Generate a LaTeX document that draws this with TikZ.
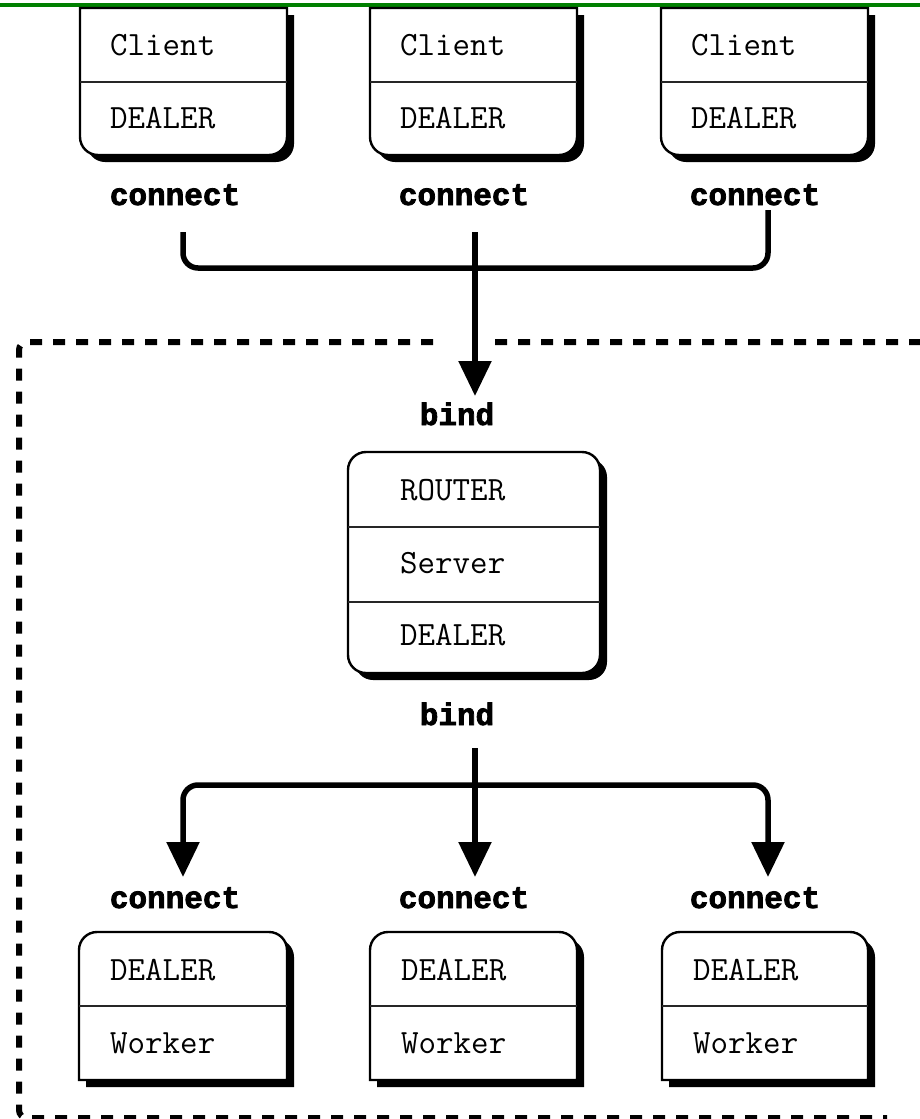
\documentclass[tikz,border=0pt]{standalone}
\usepackage{fontspec}
\newfontfamily\fieldfamily{Latin Modern Mono}
\newfontfamily\tagfamily{Liberation Mono}[BoldFeatures={FakeBold=2.5}]
\usetikzlibrary{arrows.meta}
\definecolor{topGreen}{RGB}{0,128,0}

\newcommand\fieldfont{\fieldfamily\fontsize{34}{40}\selectfont}
\newcommand\tagfont{\tagfamily\bfseries\fontsize{31}{36}\selectfont}

\tikzset{
  boxface/.style={fill=white, draw=black, line width=2.4pt},
  boxshadow/.style={fill=black},
  divider/.style={draw=black!85, line width=2pt},
  field/.style={anchor=base west, inner sep=0pt, font=\fieldfont},
  sockettag/.style={anchor=base, inner sep=0pt, font=\tagfont},
  wire/.style={line width=5.5pt, line join=round},
  tip/.style={-{Triangle[width=32pt,length=35pt]}},
  twotips/.style={{Triangle[width=32pt,length=35pt]}-{Triangle[width=32pt,length=35pt]}},
  border/.style={line width=6pt, dash pattern=on 12pt off 11pt, rounded corners=8pt}
}

% box with square top and rounded bottom: left, top, width, height
\newcommand\bottomroundbox[4]{%
  \fill[boxshadow] (#1+7,#2+7) -- (#1+7,#2+#4/2+7) [rounded corners=18pt] -- (#1+7,#2+#4+7) -- (#1+#3+7,#2+#4+7) -- (#1+#3+7,#2+#4/2+7) [sharp corners] -- (#1+#3+7,#2+7) -- cycle;
  \draw[boxface] (#1,#2) -- (#1,#2+#4/2) [rounded corners=18pt] -- (#1,#2+#4) -- (#1+#3,#2+#4) -- (#1+#3,#2+#4/2) [sharp corners] -- (#1+#3,#2) -- cycle;}

% box with rounded top and square bottom
\newcommand\toproundbox[4]{%
  \fill[boxshadow] (#1+7,#2+#4+7) -- (#1+7,#2+#4/2+7) [rounded corners=18pt] -- (#1+7,#2+7) -- (#1+#3+7,#2+7) -- (#1+#3+7,#2+#4/2+7) [sharp corners] -- (#1+#3+7,#2+#4+7) -- cycle;
  \draw[boxface] (#1,#2+#4) -- (#1,#2+#4/2) [rounded corners=18pt] -- (#1,#2) -- (#1+#3,#2) -- (#1+#3,#2+#4/2) [sharp corners] -- (#1+#3,#2+#4) -- cycle;}

% box with all corners rounded
\newcommand\allroundbox[4]{%
  \fill[boxshadow, rounded corners=18pt] (#1+7,#2+7) rectangle (#1+#3+7,#2+#4+7);
  \draw[boxface, rounded corners=18pt] (#1,#2) rectangle (#1+#3,#2+#4);}

\begin{document}
\begin{tikzpicture}[x=1pt,y=-1pt]
\useasboundingbox (0,0) rectangle (920,1119);
\fill[white] (0,0) rectangle (920,1119);

% rule along the top edge
\draw[topGreen, line width=4.5pt] (0,5) -- (920,5);

% dashed frame around the server side
\draw[border] (433,342) -- (19,342) -- (19,1118) -- (887,1118);
\draw[border] (495,342) -- (945,342) -- (945,1118);

% clients
\bottomroundbox{80}{8}{207}{147}
\bottomroundbox{370}{8}{207}{147}
\bottomroundbox{661}{8}{207}{147}
\draw[divider] (80,82) -- (287,82);
\draw[divider] (370,82) -- (577,82);
\draw[divider] (661,82) -- (868,82);
\node[field] (cl1name) at (110,55) {Client};
\node[field] (cl1sock) at (110,128) {DEALER};
\node[field] (cl2name) at (400,55) {Client};
\node[field] (cl2sock) at (400,128) {DEALER};
\node[field] (cl3name) at (691,55) {Client};
\node[field] (cl3sock) at (691,128) {DEALER};
\node[sockettag] (cl1tag) at (175,205) {connect};
\node[sockettag] (cl2tag) at (464,205) {connect};
\node[sockettag] (cl3tag) at (755,205) {connect};

% broker
\allroundbox{348}{452}{252}{221}
\draw[divider] (348,527) -- (600,527);
\draw[divider] (348,602) -- (600,602);
\node[field] (brfront) at (400,500) {ROUTER};
\node[field] (brname) at (400,573) {Server};
\node[field] (brback) at (400,645) {DEALER};
\node[sockettag] (brfronttag) at (457,425) {bind};
\node[sockettag] (brbacktag) at (457,725) {bind};

% workers
\toproundbox{79}{932}{208}{148}
\toproundbox{370}{932}{207}{148}
\toproundbox{662}{932}{206}{148}
\draw[divider] (79,1006) -- (287,1006);
\draw[divider] (370,1006) -- (577,1006);
\draw[divider] (662,1006) -- (868,1006);
\node[field] (wk1sock) at (110,980) {DEALER};
\node[field] (wk1name) at (110,1053) {Worker};
\node[field] (wk2sock) at (401,980) {DEALER};
\node[field] (wk2name) at (401,1053) {Worker};
\node[field] (wk3sock) at (693,980) {DEALER};
\node[field] (wk3name) at (693,1053) {Worker};
\node[sockettag] (wk1tag) at (175,908) {connect};
\node[sockettag] (wk2tag) at (464,908) {connect};
\node[sockettag] (wk3tag) at (755,908) {connect};

% connector end points
\coordinate (cl1out) at (183,232);
\coordinate (cl2out) at (475,232);
\coordinate (cl3out) at (768,210);
\coordinate (brin) at (475,396);
\coordinate (brout) at (475,748);
\coordinate (wk1in) at (183,877);
\coordinate (wk2in) at (475,877);
\coordinate (wk3in) at (768,877);

% clients to broker
\draw[wire, rounded corners=15pt] (cl1out) -- (cl1out |- 0,268) -- (cl3out |- 0,268) -- (cl3out);
\draw[wire, tip] (cl2out) -- (brin);

% broker to workers
\draw[wire, tip] (brout) -- (wk2in);
\draw[wire, twotips, rounded corners=15pt] (wk1in) -- (wk1in |- 0,785) -- (wk3in |- 0,785) -- (wk3in);
\end{tikzpicture}
\end{document}
